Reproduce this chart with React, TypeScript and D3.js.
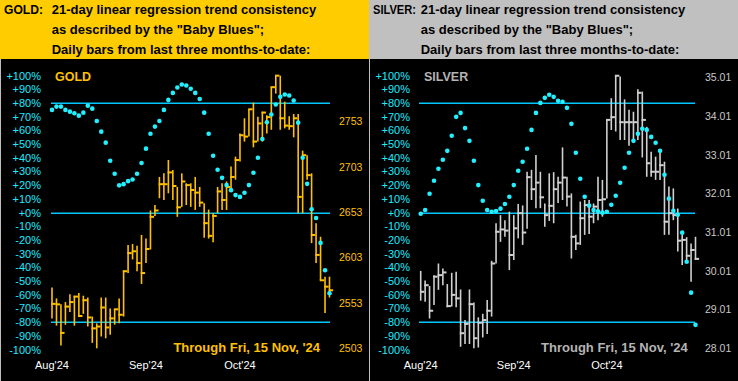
import React from 'react';
import * as d3 from 'd3';

const FONT = "'Liberation Sans', Arial, Helvetica, sans-serif";

const pctTicks = [100, 90, 80, 70, 60, 50, 40, 30, 20, 10, 0, -10, -20, -30, -40, -50, -60, -70, -80, -90, -100];
const pctLines = [80, 0, -80];
const monthLabels = ["Aug'24", "Sep'24", "Oct'24"];
const monthIdx = [0, 21, 42];
const goldPriceTicks = [2503, 2553, 2603, 2653, 2703, 2753];
const silverPriceTicks = [28.01, 29.01, 30.01, 31.01, 32.01, 33.01, 34.01, 35.01];

const goldHigh = [2570, 2558, 2551.5, 2554, 2562.5, 2561, 2564, 2561, 2559, 2538, 2530.5, 2559, 2559, 2547, 2546, 2558, 2589, 2617, 2618, 2616, 2628, 2624, 2655, 2661, 2692, 2696, 2710.7, 2699.7, 2681, 2696, 2685, 2685, 2692, 2681, 2663, 2656, 2652, 2681, 2685, 2687, 2703.4, 2714.4, 2740, 2756.7, 2766.6, 2774, 2758.5, 2764, 2760, 2791, 2804.5, 2803.7, 2775, 2759, 2761.4, 2761.4, 2721, 2716, 2696, 2641, 2626, 2582, 2582];
const goldLow = [2536, 2528, 2506, 2529, 2543, 2528, 2538, 2541, 2527, 2509, 2503, 2516, 2514, 2518, 2529, 2530.5, 2538, 2586, 2601, 2588, 2574, 2597, 2612, 2649, 2668.5, 2666.6, 2674, 2666.6, 2648, 2659, 2661, 2659, 2655.6, 2659, 2625, 2624, 2620, 2652, 2655.6, 2655.6, 2676, 2689, 2709, 2731, 2736.5, 2724.7, 2731, 2731, 2740, 2744, 2784, 2744, 2745.6, 2744, 2735.7, 2652, 2652, 2689, 2619, 2597, 2578, 2542, 2559];
const goldClose = [2552, 2551.5, 2520, 2549, 2554, 2560, 2538.6, 2556, 2537, 2525, 2527, 2548, 2526, 2536, 2546, 2540, 2588, 2608, 2610, 2597, 2586, 2612.5, 2648, 2655, 2684, 2684, 2697, 2682, 2658.5, 2687, 2683, 2677.6, 2674.7, 2663.7, 2641, 2627, 2649, 2676, 2666.6, 2681, 2692, 2710.7, 2738, 2736.5, 2766.6, 2731, 2751, 2763, 2758, 2791, 2803.7, 2756.7, 2748.6, 2748, 2756.7, 2670, 2716, 2694, 2628, 2606, 2578, 2571, 2567];
const goldTrend = [74.9, 77.3, 77.3, 74.9, 73.6, 72.5, 70.7, 72.9, 78.0, 75.8, 66.8, 59.0, 51.0, 37.8, 28.3, 19.8, 20.7, 22.9, 24.1, 28.3, 36.1, 46.6, 57.5, 62.7, 66.8, 74.9, 82.2, 87.3, 91.2, 93.4,
  92.7, 90.3, 87.3, 82.9, 72.9, 57.5, 41.4, 31.2, 25.3, 20.0, 16.3, 12.7, 11.4, 14.4, 20.0, 29.0, 40.0, 53.7, 65.9, 71.5, 78.8, 84.4, 86.1, 85.4, 81.7, 65.6, 40.0, 20.9, 2.4, -4.0,
  -22.2, -42.2, -58.9];

const silverHigh = [30.01, 29.76, 29.62, 29.90, 30.20, 30.07, 29.67, 29.96, 29.99, 29.53, 28.74, 29.53, 29.19, 28.81, 28.90, 29.26, 30.27, 31.24, 31.45, 31.32, 31.54, 31.45, 31.74, 31.70, 32.57, 32.62, 33.00, 32.57, 31.75, 32.53, 32.56, 32.44, 33.20, 32.44, 32.01, 30.94, 31.80, 31.84, 31.84, 31.75, 32.44, 32.36, 33.91, 34.47, 35.07, 35.03, 34.44, 34.17, 34.12, 34.70, 34.64, 33.73, 33.09, 32.96, 33.09, 32.83, 32.19, 32.14, 31.62, 30.94, 30.88, 30.72, 30.89];
const silverLow = [29.24, 29.21, 28.78, 29.13, 29.52, 29.64, 29.07, 29.09, 29.07, 28.05, 28.12, 28.12, 28.01, 28.03, 28.29, 28.38, 28.83, 30.20, 30.76, 30.89, 30.03, 30.29, 30.85, 30.68, 31.10, 31.84, 31.63, 31.63, 31.15, 31.30, 31.24, 31.76, 31.84, 31.67, 30.33, 30.55, 30.68, 30.94, 30.96, 31.24, 31.32, 31.41, 31.88, 33.65, 33.61, 33.39, 33.39, 33.24, 33.35, 33.39, 32.94, 32.44, 32.44, 32.36, 32.36, 30.94, 30.94, 31.32, 30.51, 30.16, 30.29, 29.73, 30.29];
const silverClose = [29.47, 29.64, 28.98, 29.86, 29.90, 29.97, 29.10, 29.39, 29.30, 28.40, 28.64, 29.15, 28.27, 28.67, 28.74, 28.98, 30.20, 31.02, 31.08, 31.05, 30.42, 31.11, 31.50, 31.00, 32.43, 32.12, 32.29, 31.91, 31.45, 31.69, 32.12, 32.29, 32.42, 31.93, 30.89, 30.72, 31.37, 31.71, 31.41, 31.67, 31.84, 31.86, 33.91, 33.98, 35.05, 33.85, 33.85, 33.85, 33.85, 34.61, 33.91, 32.79, 32.57, 32.57, 32.74, 31.28, 31.50, 31.45, 30.79, 30.81, 30.40, 30.55, 30.32];
const silverTrend = [-0.9, 1.8, 13.7, 23.2, 31.9, 38.5, 45.0, 56.0, 69.8, 72.7, 61.6, 52.3, 37.8, 20.0, 8.6, 1.8, 0.6, 1.1, 2.8, 6.2, 11.5, 20.0, 30.5, 37.0, 46.5, 60.3, 72.7, 80.0, 83.7, 85.9, 84.4,
  81.5, 80.8, 76.4, 64.7, 43.6, 24.6, 11.5, 5.0, 1.8, 0.9, -0.1, 0.6, 5.7, 12.2, 21.7, 32.7, 43.6, 52.3, 57.4, 61.1, 60.3, 55.2, 50.9, 45.0, 27.6, 10.1, 1.3, -1.6,
  -14.7, -35.9, -58.5, -82.0];

const headerLine1 = '21-day linear regression trend consistency';
const headerLine2 = 'as described by the "Baby Blues";';
const headerLine3 = 'Daily bars from last three months-to-date:';
const throughText = "Through Fri, 15 Nov, '24";

const CYAN_TEXT = '#1EEBFF';
const CYAN_DOT = '#22F0FF';
const LINE_BLUE = '#00C8FF';

type PanelProps = {
  x0: number;
  headerColor: string;
  tag: string;
  tagWidth: number;
  name: string;
  nameColor: string;
  barColor: string;
  priceColor: string;
  high: number[];
  low: number[];
  close: number[];
  trend: number[];
  priceDomain: [number, number];
  priceRange: [number, number];
  priceTicks: number[];
  fmt: (v: number) => string;
  xRange: [number, number];
  priceX: number;
  throughX: number;
};

function Panel(p: PanelProps) {
  const n = p.close.length;
  const xs = d3.scaleLinear().domain([0, n - 1]).range(p.xRange);
  const ys = d3.scaleLinear().domain(p.priceDomain).range(p.priceRange);
  const yp = d3.scaleLinear().domain([-100, 100]).range([349.5, 75.5]);
  const x0 = p.x0;
  return (
    <g>
      <rect x={x0} y={0} width={369} height={59} fill={p.headerColor} />
      <rect x={x0} y={59} width={369} height={322} fill="#000" />
      <line x1={x0 + 0.5} x2={x0 + 0.5} y1={59} y2={381} stroke="#BDBDBD" strokeWidth={1} />
      <g fontFamily={FONT} fontWeight="bold" fontSize={13} fill="#000">
        <text x={x0 + 4} y={14} textLength={p.tagWidth} lengthAdjust="spacingAndGlyphs">{p.tag}</text>
        <text x={x0 + 51.7} y={14}>{headerLine1}</text>
        <text x={x0 + 51.7} y={34}>{headerLine2}</text>
        <text x={x0 + 51.7} y={54}>{headerLine3}</text>
      </g>
      {pctLines.map((v) => (
        <rect key={'l' + v} x={Math.round(p.xRange[0] - 1.5)} width={Math.round(p.xRange[1] - p.xRange[0] + 1.5)} y={Math.round(yp(v)) - 0.5} height={1.5} fill={LINE_BLUE} />
      ))}
      <g fontFamily={FONT} fontSize={11} fill={CYAN_TEXT} textAnchor="end">
        {pctTicks.map((v) => (
          <text key={'p' + v} x={x0 + 41} y={yp(v) + 4}>{(v >= 0 ? '+' : '') + v + '%'}</text>
        ))}
      </g>
      <g fontFamily={FONT} fontSize={10.5} fill={p.priceColor}>
        {p.priceTicks.map((v) => (
          <text key={'t' + v} x={x0 + p.priceX} y={ys(v) + 3.8}>{p.fmt(v)}</text>
        ))}
      </g>
      <text x={x0 + 55} y={80.5} fontFamily={FONT} fontWeight="bold" fontSize={12.5} fill={p.nameColor}>{p.name}</text>
      <g>
        {p.close.map((c, i) => (
          <g key={'b' + i}>
            <line x1={xs(i)} x2={xs(i)} y1={ys(p.high[i])} y2={ys(p.low[i])} stroke={p.barColor} strokeWidth={1.6} />
            <line x1={xs(i) - 0.8} x2={xs(i) + 3.6} y1={ys(c)} y2={ys(c)} stroke={p.barColor} strokeWidth={2} />
          </g>
        ))}
      </g>
      <g fill={CYAN_DOT}>
        {p.trend.map((v, i) => (
          <circle key={'d' + i} cx={xs(i)} cy={yp(v)} r={2.3} />
        ))}
      </g>
      <text x={x0 + p.throughX} y={351.5} textAnchor="end" fontFamily={FONT} fontWeight="bold" fontSize={13} fill={p.nameColor}>{throughText}</text>
      <g fontFamily={FONT} fontSize={11} fill="#fff" textAnchor="middle">
        {monthLabels.map((m, k) => (
          <text key={m} x={xs(monthIdx[k])} y={369}>{m}</text>
        ))}
      </g>
    </g>
  );
}

export default function App() {
  return (
    <svg width={738} height={381} style={{ position: 'absolute', left: 0, top: 0, display: 'block' }}>
      <rect x={0} y={0} width={738} height={381} fill="#000" />
      <Panel
        x0={0}
        headerColor="#FFCC00"
        tag="GOLD:"
        tagWidth={39}
        name="GOLD"
        nameColor="#FFC000"
        barColor="#FFC000"
        priceColor="#FFC000"
        high={goldHigh}
        low={goldLow}
        close={goldClose}
        trend={goldTrend}
        priceDomain={[2503, 2803]}
        priceRange={[348.3, 76.3]}
        priceTicks={goldPriceTicks}
        fmt={(v) => String(v)}
        xRange={[52, 329.5]}
        priceX={339}
        throughX={320}
      />
      <Panel
        x0={369}
        headerColor="#C0C0C0"
        tag="SILVER:"
        tagWidth={43}
        name="SILVER"
        nameColor="#B4B4B4"
        barColor="#D0D0D0"
        priceColor="#C8C8C8"
        high={silverHigh}
        low={silverLow}
        close={silverClose}
        trend={silverTrend}
        priceDomain={[28.01, 35.01]}
        priceRange={[348.3, 77.3]}
        priceTicks={silverPriceTicks}
        fmt={(v) => v.toFixed(2)}
        xRange={[420.7, 695.5]}
        priceX={336}
        throughX={318.7}
      />
    </svg>
  );
}
